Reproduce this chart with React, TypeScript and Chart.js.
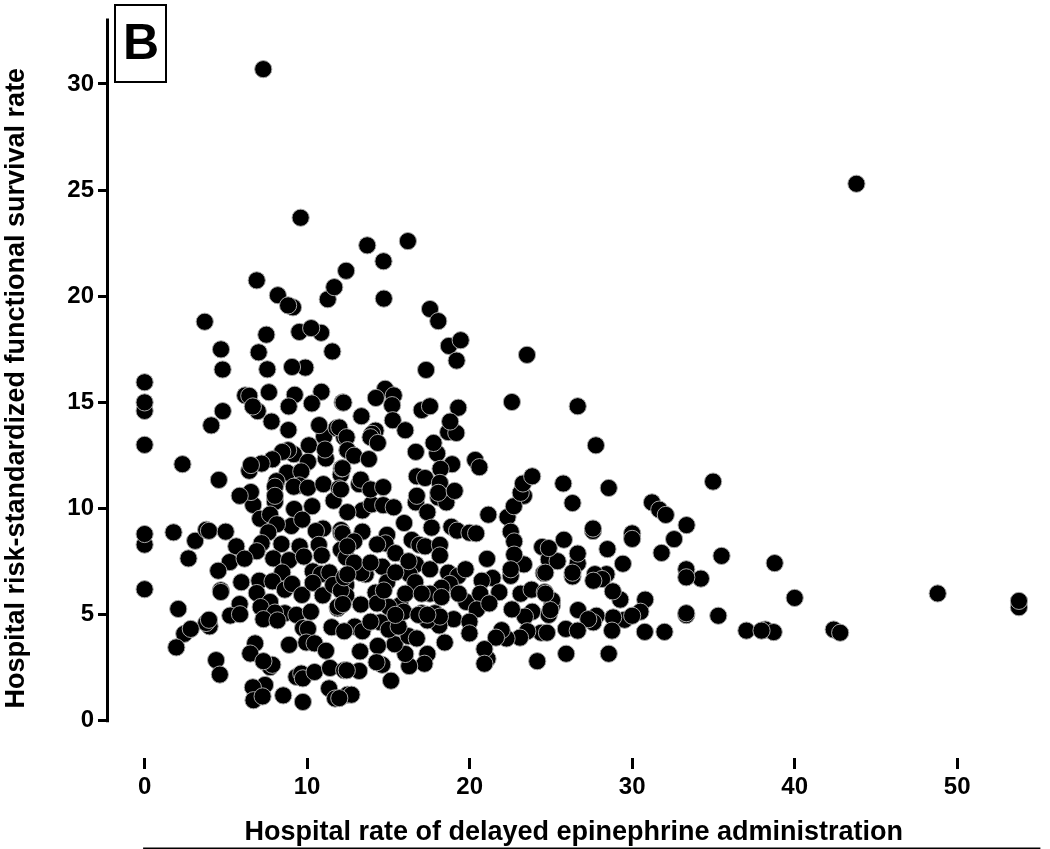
import React, { useEffect, useRef } from "react";
import { Chart, registerables } from "chart.js";

Chart.register(...registerables);

const xTickValues = [0, 10, 20, 30, 40, 50];
const yTickValues = [0, 5, 10, 15, 20, 25, 30];
const xTitle = "Hospital rate of delayed epinephrine administration";
const yTitle = "Hospital risk-standardized functional survival rate";
const panelLabel = "B";

const zeroRatePoints = [[0,15.95],[0,14.6],[0,15],[0,13],[0,8.3],[0,8.8],[0,6.2]];

const outlierPoints = [[7.3,30.7],[43.8,25.3],[9.6,23.7],[16.2,22.6],[13.7,22.4],[14.7,21.65],[12.4,21.2],[48.8,6.0],[53.8,5.35],[53.8,5.65],[42.4,4.3],[42.8,4.15],[40,5.79],[38.77,7.43]];

const upperLeftPoints = [[3.7,18.8],[4.7,17.5],[4.8,16.55],[6.9,20.75],[8.2,20.05],[9.13,19.48],[8.83,19.57],[11.27,19.86],[11.67,20.43],[7.49,18.19],[9.52,18.32],[10.86,18.28],[10.25,18.5],[7.02,17.36],[11.55,17.4],[7.55,16.56],[9.89,16.64],[9.07,16.67],[6.19,15.33],[6.44,15.31],[7.65,15.48],[9.24,15.36],[10.88,15.5],[10.29,14.95],[8.87,14.81],[12.18,15.0],[6.96,14.59],[6.66,14.81],[4.81,14.59],[4.1,13.92],[7.81,14.1],[8.85,13.7],[11.04,13.39],[10.74,13.93],[11.81,13.79],[12.28,13.36],[2.33,12.09],[4.57,11.35],[9.18,12.56],[8.83,12.75],[8.47,12.67],[11.15,12.36],[10.11,12.98],[11.1,12.78],[10.05,12.2],[7.86,12.32],[7.2,12.12],[6.44,11.78],[6.54,12.05],[8.77,11.69],[9.64,11.75],[12.07,11.6],[12.12,11.89],[8.12,11.29],[8.02,11.03],[6.54,10.78],[5.85,10.6],[9.52,11.09],[9.18,11.03],[10.05,10.98],[11.0,11.15],[11.97,10.95],[8.02,10.6],[12.48,12.75]];

const lowerLeftPoints = [[6.68,10.17],[8.02,10.32],[9.2,9.98],[10.31,10.11],[11.63,10.37],[7.11,9.52],[7.72,9.72],[9.03,9.18],[8.14,9.26],[9.7,9.48],[10.98,9.06],[10.54,8.94],[12.08,8.99],[7.61,8.88],[8.42,8.33],[9.54,8.22],[10.72,8.29],[7.2,8.37],[6.9,7.99],[5.64,8.22],[5.24,7.48],[6.15,7.64],[4.53,7.07],[2.7,7.65],[3.11,8.48],[1.78,8.88],[3.79,9.0],[3.96,8.95],[4.99,8.91],[7.92,7.65],[8.89,7.57],[9.8,7.74],[10.9,7.79],[12.1,8.83],[12.08,8.06],[12.4,7.7],[8.47,6.99],[7.06,6.6],[7.87,6.57],[5.95,6.53],[4.69,6.15],[4.69,6.07],[6.9,6.02],[8.63,6.18],[9.07,6.45],[9.68,5.93],[10.35,7.04],[10.86,6.91],[11.37,6.99],[10.35,6.5],[10.96,5.91],[11.6,6.4],[12.4,6.4],[12.4,5.9],[5.85,5.5],[5.27,4.96],[5.87,5.02],[7.72,5.6],[7.14,5.36],[8.63,5.07],[8.02,5.1],[7.31,4.79],[8.18,4.73],[9.34,4.99],[10.23,5.14],[11.88,5.3],[11.51,4.41],[9.75,4.37],[10.05,4.33],[4.0,4.45],[3.79,4.61],[3.96,4.76],[2.44,4.1],[2.84,4.33],[2.07,5.27],[1.95,3.46],[6.8,3.65],[6.5,3.17],[7.72,2.53],[7.86,2.64],[7.31,2.81],[4.4,2.86],[4.63,2.18],[8.89,3.58],[9.95,3.69],[10.46,3.65],[11.16,3.3],[9.34,2.07],[9.64,2.23],[9.74,2.0],[10.46,2.3],[11.41,2.49],[12.28,2.38],[7.41,1.69],[6.66,1.58],[6.7,0.97],[7.26,1.15],[8.53,1.2],[9.74,0.89],[11.35,1.53],[11.72,1.05],[12.48,1.23]];

const upperCentrePoints = [[14.72,19.89],[17.56,19.4],[18.07,18.83],[18.72,17.66],[19.45,17.93],[19.2,16.97],[17.32,16.53],[23.53,17.24],[22.6,15.02],[14.8,15.64],[15.33,15.33],[14.23,15.21],[15.23,14.87],[12.24,14.99],[13.34,14.35],[15.27,14.16],[16.04,13.69],[17.05,14.64],[17.56,14.82],[19.3,14.75],[18.68,13.6],[19.18,13.56],[18.8,14.1],[14.21,13.67],[14.0,13.52],[13.9,13.36],[14.35,13.09],[11.98,13.82],[12.43,13.36],[12.48,12.75],[12.89,12.49],[13.8,12.33],[16.69,12.67],[18.0,12.6],[17.78,13.09],[18.92,12.09],[20.34,12.29],[20.6,11.95],[12.18,11.9],[16.75,11.52],[17.26,11.44],[18.21,11.87],[18.17,11.21],[13.2,11.15],[13.3,11.36],[13.9,10.9],[14.68,11.01],[12.08,10.9],[18.07,10.74],[19.08,10.83],[23.14,10.74],[23.28,11.18],[23.85,11.52],[16.75,10.6]];

const lowerCentrePoints = [[13.4,9.91],[12.48,9.83],[13.97,10.2],[14.68,10.16],[15.33,10.06],[16.69,10.29],[18.07,10.52],[18.57,10.29],[17.4,9.83],[15.97,9.32],[17.66,9.1],[18.88,9.14],[19.23,8.96],[19.99,8.86],[20.4,8.83],[21.15,9.71],[23.34,10.6],[22.33,9.6],[22.72,10.11],[22.53,8.91],[22.74,8.45],[24.46,8.19],[24.87,7.6],[23.34,7.37],[22.74,7.83],[24.56,6.96],[21.07,7.63],[22.53,6.83],[22.53,7.14],[12.18,8.83],[13.4,8.91],[14.92,8.76],[12.89,8.45],[12.48,8.22],[14.82,8.36],[14.31,8.31],[15.43,7.9],[16.44,8.52],[16.91,8.29],[17.26,8.22],[18.17,8.29],[18.17,7.79],[16.69,7.37],[16.3,6.91],[16.65,6.53],[17.56,7.14],[18.68,6.98],[19.29,6.83],[19.75,7.14],[18.78,6.45],[18.27,6.27],[17.56,5.99],[19.79,5.6],[19.33,5.99],[21.41,6.73],[20.75,6.6],[21.82,6.06],[20.65,5.99],[20.44,5.25],[21.21,5.53],[23.14,5.99],[23.81,6.18],[24.62,6.06],[23.85,5.14],[23.4,4.91],[22.6,5.25],[25.07,5.45],[24.87,4.99],[24.4,4.15],[23.55,4.22],[23.1,3.92],[22.27,3.88],[21.97,4.27],[21.62,3.92],[24.16,2.81],[21.1,2.92],[20.91,3.38],[20.91,2.69],[19.02,4.79],[19.99,4.67],[19.99,4.12],[18.13,4.49],[17.4,4.73],[17.05,5.07],[17.86,5.07],[18.17,4.91],[18.47,3.69],[17.4,3.15],[17.22,2.69],[16.28,2.58],[16.04,3.15],[15.39,3.61],[16.24,3.99],[16.75,3.88],[14.35,3.53],[13.26,3.27],[14.62,2.64],[14.27,2.76],[15.16,1.89],[13.2,2.35],[12.44,2.38],[12.73,1.23],[11.98,1.07]];

const denseCorePoints = [[13.6,6.9],[13.34,6.96],[14.62,7.26],[14.92,6.53],[15.43,6.99],[14.21,6.04],[13.3,5.48],[15.73,5.45],[15.02,5.37],[12.08,6.14],[12.28,6.76],[11.88,5.37],[12.2,5.5],[14.51,4.64],[12.93,4.44],[12.28,4.22],[13.4,4.22],[13.9,4.67],[15.02,4.3],[15.63,4.44],[15.94,5.14],[14.31,5.53],[14.72,6.14],[16.04,5.99],[12.89,7.45],[12.48,6.9],[13.9,7.45],[16.24,7.52],[17.05,5.99],[18.27,5.83],[16.85,4.99],[17.4,5],[15.43,4.99]];

const rightPoints = [[26.65,14.82],[27.77,12.98],[25.76,11.18],[28.56,10.97],[26.33,10.26],[34.98,11.27],[31.22,10.29],[31.67,9.95],[32.07,9.7],[33.35,9.22],[32.58,8.56],[31.81,7.91],[35.5,7.77],[27.59,8.94],[27.59,9.06],[30.0,8.83],[30.0,8.57],[25.8,8.53],[28.48,8.09],[29.43,7.4],[26.65,7.42],[26.65,7.88],[25.41,7.52],[24.87,8.14],[26.33,6.8],[26.33,6.98],[28.42,6.91],[27.71,6.91],[28.15,6.68],[27.61,6.6],[33.33,7.14],[34.23,6.7],[33.33,6.76],[29.27,5.71],[28.81,6.1],[30.8,5.71],[30.51,5.14],[29.54,4.76],[30.0,4.95],[28.83,4.87],[33.33,4.98],[33.33,5.07],[35.3,4.95],[26.67,5.22],[27.8,4.95],[27.61,4.64],[27.3,4.79],[25.92,4.33],[26.65,4.25],[28.76,4.25],[30.78,4.19],[31.99,4.19],[37.03,4.25],[38.2,4.3],[38.71,4.18],[37.96,4.25],[25.94,3.16],[28.56,3.16],[25.07,5.68],[24.97,5.22],[24.66,5.99],[24.66,6.98],[24.76,4.15]];

const allPoints = [
  ...lowerLeftPoints,
  ...lowerCentrePoints,
  ...denseCorePoints,
  ...upperLeftPoints,
  ...upperCentrePoints,
  ...rightPoints,
  ...zeroRatePoints,
  ...outlierPoints,
];

const FONT = '"Liberation Sans", Arial, sans-serif';

const axesAndLabel = {
  id: "axesAndLabel",
  afterDraw(chart: any) {
    const { ctx, scales } = chart;
    const x = scales.x;
    const y = scales.y;
    ctx.save();
    ctx.strokeStyle = "#000";
    ctx.lineWidth = 3;
    ctx.lineCap = "butt";
    ctx.beginPath();
    ctx.moveTo(x.getPixelForValue(0) - 1.5, x.bottom);
    ctx.lineTo(x.right, x.bottom);
    ctx.moveTo(y.left + 107.5, y.getPixelForValue(0) + 1.5);
    ctx.lineTo(y.left + 107.5, y.top);
    ctx.stroke();
    ctx.lineWidth = 2;
    ctx.strokeRect(115, 5, 51, 77);
    ctx.fillStyle = "#000";
    ctx.font = `bold 50px ${FONT}`;
    ctx.textAlign = "center";
    ctx.textBaseline = "middle";
    ctx.fillText(panelLabel, 141, 45);
    ctx.restore();
  },
};

export default function App() {
  const ref = useRef<HTMLCanvasElement | null>(null);
  useEffect(() => {
    const chart = new Chart(ref.current as HTMLCanvasElement, {
      type: "scatter",
      data: {
        datasets: [
          {
            data: allPoints.map(([x, y]) => ({ x, y })),
            backgroundColor: "#000",
            borderColor: "#a8a8a8",
            borderWidth: 1,
            pointRadius: 8.6,
            clip: false,
          } as any,
        ],
      },
      options: {
        responsive: false,
        animation: false,
        layout: { padding: { top: 2, right: 0, left: 0, bottom: 0 } },
        plugins: { legend: { display: false }, tooltip: { enabled: false } },
        scales: {
          x: {
            type: "linear",
            min: -2.314,
            max: 55.12,
            afterBuildTicks: (s: any) => {
              s.ticks = xTickValues.map((value) => ({ value }));
            },
            afterFit: (s: any) => {
              s.height = 91;
            },
            border: { display: false },
            grid: { drawOnChartArea: false, drawTicks: true, tickLength: 11, tickWidth: 3, tickColor: "#000" },
            ticks: { color: "#000", font: { family: FONT, size: 24, weight: "bold" }, padding: 4, autoSkip: false, maxRotation: 0 },
            title: { display: true, text: xTitle, color: "#000", font: { family: FONT, size: 27, weight: "bold" }, padding: { top: 6, bottom: 0 } },
          },
          y: {
            type: "linear",
            min: -1.751,
            max: 33.09,
            afterBuildTicks: (s: any) => {
              s.ticks = yTickValues.map((value) => ({ value }));
            },
            afterFit: (s: any) => {
              s.width = 107;
            },
            border: { display: false },
            grid: { drawOnChartArea: false, drawTicks: true, tickLength: 9, tickWidth: 3, tickColor: "#000" },
            ticks: { color: "#000", font: { family: FONT, size: 24, weight: "bold" }, padding: 4, autoSkip: false, maxRotation: 0 },
            title: { display: true, text: yTitle, color: "#000", font: { family: FONT, size: 27, weight: "bold" }, padding: { top: 0, bottom: 0 } },
          },
        },
      },
      plugins: [axesAndLabel],
    } as any);
    return () => chart.destroy();
  }, []);
  return (
    <div style={{ position: "absolute", left: 0, top: 0, width: 1050, height: 849, background: "#fff" }}>
      <canvas ref={ref} width={1050} height={849} style={{ display: "block" }} />
    </div>
  );
}
